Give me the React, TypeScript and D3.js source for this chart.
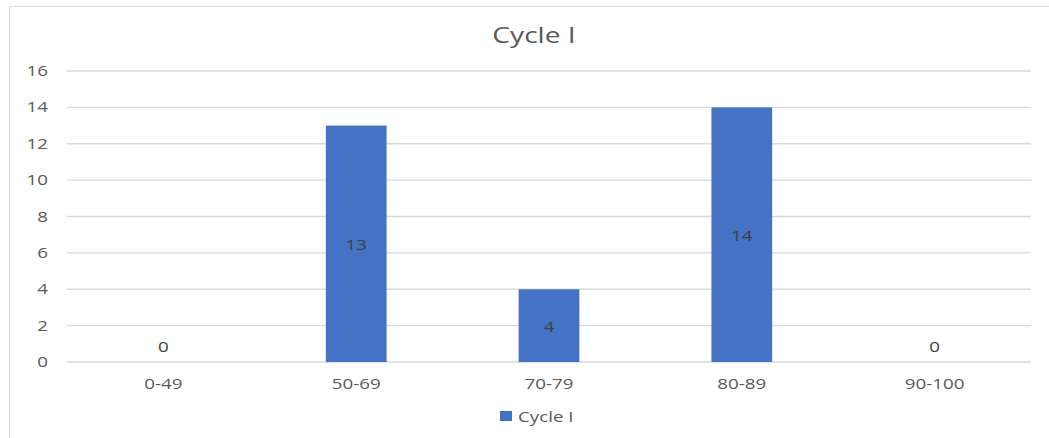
import React from "react";
import * as d3 from "d3";

const categories = ["0-49", "50-69", "70-79", "80-89", "90-100"];
const values = [0, 13, 4, 14, 0];
const yTicks = [0, 2, 4, 6, 8, 10, 12, 14, 16];
const seriesName = "Cycle I";
const title = "Cycle I";

const W = 1049;
const H = 438;
const left = 67;
const right = 1031;
const top = 71;
const bottom = 362;
const font = "'Open Sans', 'Liberation Sans', sans-serif";
const SX = 1.34;

function T({ x, y, anchor = "start", size = 14, fill = "#595959", children }: any) {
  return (
    <text
      transform={`translate(${x},${y}) scale(${SX},1)`}
      textAnchor={anchor}
      fontFamily={font}
      fontSize={size}
      fill={fill}
    >
      {children}
    </text>
  );
}

export default function App() {
  const x = d3.scaleBand<string>().domain(categories).range([left, right]).paddingInner(0.685).paddingOuter(0.3425);
  const y = d3.scaleLinear().domain([0, 16]).range([bottom, top]);
  const bw = x.bandwidth();
  return (
    <svg width={W} height={H} style={{ position: "absolute", left: 0, top: 0, background: "#fff" }}>
      <rect x={9.5} y={6.5} width={W + 10} height={H + 10} fill="#fff" stroke="#d9d9d9" strokeWidth={1} />
      <T x={534} y={43} anchor="middle" size={21}>{title}</T>
      {yTicks.map((t) => (
        <g key={t}>
          <line x1={left} x2={right} y1={y(t)} y2={y(t)} stroke="#d9d9d9" strokeWidth={1.3} />
          <T x={48} y={y(t) + 5} anchor="end">{t}</T>
        </g>
      ))}
      {categories.map((c, i) => {
        const bx = x(c)!;
        const v = values[i];
        const cx = bx + bw / 2;
        return (
          <g key={c}>
            {v > 0 && <rect x={bx} y={y(v)} width={bw} height={y(0) - y(v)} fill="#4472C4" />}
            <T x={cx} y={v > 0 ? (y(v) + y(0)) / 2 + 6 : y(0) - 10} anchor="middle" fill="#404040">{v}</T>
            <T x={cx} y={389} anchor="middle">{c}</T>
          </g>
        );
      })}
      <rect x={500} y={411} width={12} height={10} fill="#4472C4" />
      <T x={518} y={422}>{seriesName}</T>
    </svg>
  );
}
